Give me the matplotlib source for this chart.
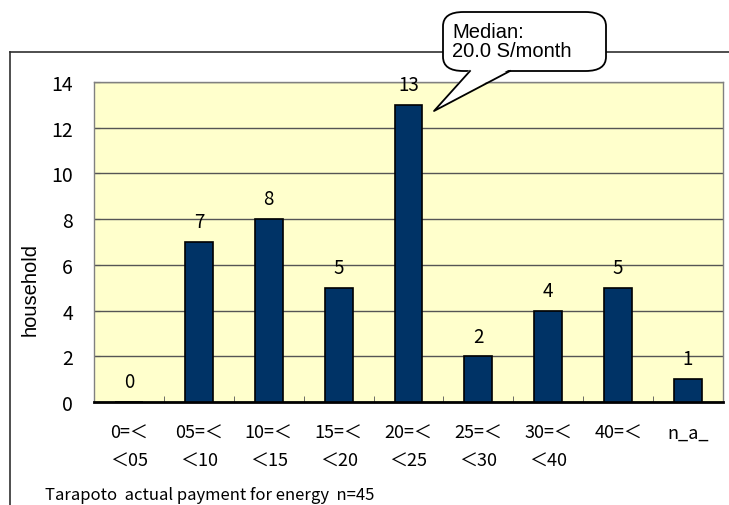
import numpy as np
import matplotlib
matplotlib.use("Agg")
import matplotlib.pyplot as plt
from matplotlib.patches import FancyBboxPatch, Polygon
from matplotlib.lines import Line2D

plt.rcParams['font.family'] = ['Noto Sans CJK JP', 'DejaVu Sans']

# 支払額の階級と世帯数
categories = ['0=＜\n＜05', '05=＜\n＜10', '10=＜\n＜15', '15=＜\n＜20', '20=＜\n＜25',
              '25=＜\n＜30', '30=＜\n＜40', '40=＜\n', 'n_a_\n']
households = [0, 7, 8, 5, 13, 2, 4, 5, 1]
median_text = 'Median:\n20.0 S/month'
title_text = 'Tarapoto  actual payment for energy  n=45'

W, H = 729, 506
fig = plt.figure(figsize=(W / 100, H / 100), dpi=100)
fig.patch.set_facecolor('white')

def fx(px):
    return px / W

def fy(py):
    return 1 - py / H

# グラフ全体の枠
fig.add_artist(Line2D([fx(10), fx(10)], [fy(53), fy(520)], color='#303030', lw=1.2, transform=fig.transFigure))
fig.add_artist(Line2D([fx(10), fx(740)], [fy(53), fy(53)], color='#303030', lw=1.2, transform=fig.transFigure))

ax = fig.add_axes([fx(94), fy(403), fx(723) - fx(94), fy(83) - fy(403)])
ax.set_facecolor('#ffffcc')

x = np.arange(len(categories))
bars = ax.bar(x, households, width=0.4, color='#003366', edgecolor='black', linewidth=1.2, zorder=3)

for xi, v in zip(x, households):
    ax.annotate(str(v), (xi, v), xytext=(0, 7), textcoords='offset points',
                ha='center', va='bottom', fontsize=13.5)

ax.set_xlim(-0.5, len(categories) - 0.5)
ax.set_ylim(0, 14)
ax.set_yticks(np.arange(0, 15, 2))
ax.yaxis.grid(True, color='#555555', linewidth=1.0, zorder=1)
ax.set_axisbelow(True)
ax.tick_params(axis='y', direction='in', length=4, color='#555555', labelsize=14, pad=15)

ax.set_xticks(x)
ax.set_xticklabels(categories, fontsize=13, linespacing=1.7)
ax.set_xticks(np.arange(0.5, len(categories) - 0.5, 1), minor=True)
ax.tick_params(axis='x', which='major', length=0, pad=16)
ax.tick_params(axis='x', which='minor', direction='in', length=4, color='#555555')

for s in ['left', 'top', 'right']:
    ax.spines[s].set_color('#808080')
    ax.spines[s].set_linewidth(1.0)
ax.spines['bottom'].set_color('black')
ax.spines['bottom'].set_linewidth(2.0)

fig.text(fx(30), fy(290), 'household', rotation=90, ha='center', va='center',
         fontsize=14.5, family=['Liberation Sans', 'DejaVu Sans'])
fig.text(fx(45), fy(496), title_text, ha='left', va='center', fontsize=12)

# 中央値の吹き出し
box = FancyBboxPatch((fx(443), fy(72)), fx(606) - fx(443), fy(13) - fy(72),
                     boxstyle='round,pad=0,rounding_size=0.028', transform=fig.transFigure,
                     facecolor='white', edgecolor='black', linewidth=1.3, zorder=5)
fig.add_artist(box)
tail = [(fx(470), fy(70)), (fx(434), fy(112)), (fx(510), fy(70))]
fig.add_artist(Polygon(tail, closed=True, facecolor='white', edgecolor='none',
                       transform=fig.transFigure, zorder=6))
fig.add_artist(Line2D([fx(470), fx(434), fx(510)], [fy(72), fy(112), fy(72)], color='black',
                      lw=1.3, transform=fig.transFigure, zorder=7))
fig.text(fx(452), fy(42), median_text, ha='left', va='center', fontsize=14.5,
         family=['Liberation Sans', 'DejaVu Sans'], linespacing=1.05, zorder=8)

fig.savefig('out.png', dpi=100)
